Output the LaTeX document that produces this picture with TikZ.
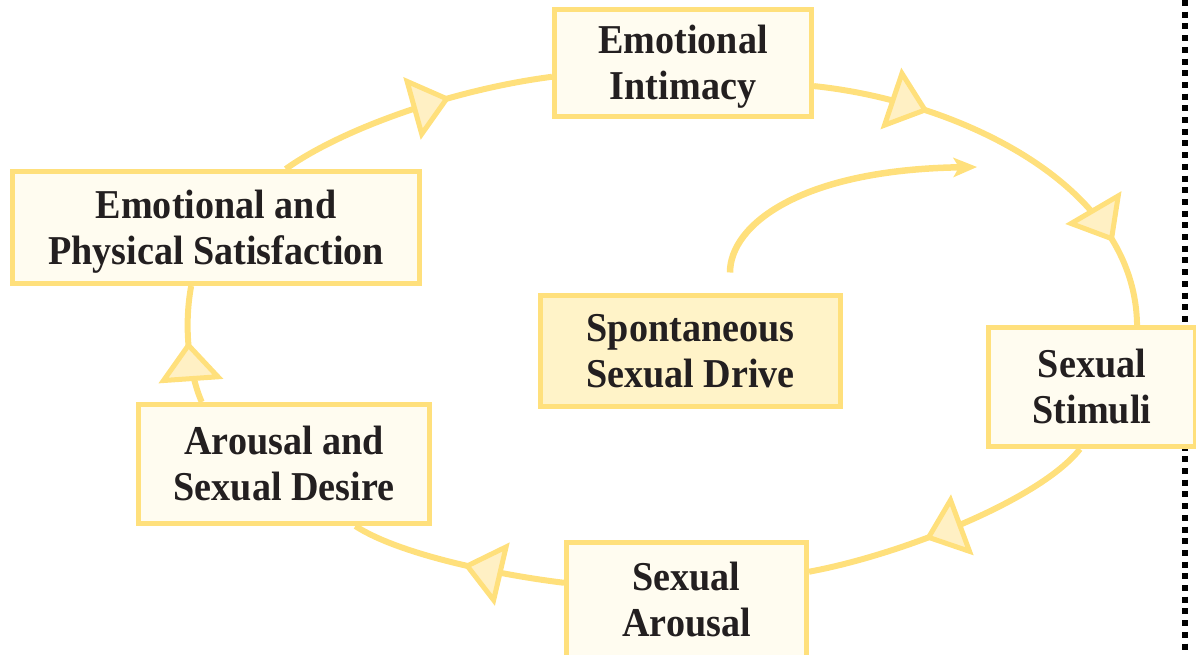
\documentclass[tikz,border=0pt]{standalone}
\usepackage{fontspec}
\setmainfont{Liberation Serif}
\newfontfamily\stagefont[FakeStretch=0.93]{Liberation Serif}
\usepackage{tikz}
\usetikzlibrary{arrows.meta}
\usetikzlibrary{positioning,decorations.markings}
\definecolor{cycleyellow}{RGB}{255,224,124}
\definecolor{boxcream}{RGB}{255,252,240}
\definecolor{drivecream}{RGB}{255,243,200}
\definecolor{tipcream}{RGB}{255,240,196}
\definecolor{inkblack}{RGB}{35,31,32}

\tikzset{
  stagebox/.style={draw=cycleyellow, line width=5pt, fill=boxcream, align=center,
    text=inkblack, inner sep=0pt, text height=73pt, text depth=0pt,
    font=\fontsize{41}{46}\selectfont\stagefont\bfseries},
  cyctip/.tip={Triangle[length=40pt, width=64pt, fill=tipcream, line width=5pt]},
  cycleline/.style={draw, color=cycleyellow, line width=6pt},
  midtip/.style={postaction={decorate},
    decoration={markings, mark=at position #1 with {\arrow{cyctip}}}},
  driveline/.style={draw=cycleyellow, line width=6.5pt,
    -{Stealth[length=24pt, width=20pt, inset=6pt, line width=0pt]}},
  dotrule/.style={draw=black, line width=6pt, dash pattern=on 6pt off 5.7pt}
}

\begin{document}
\begin{tikzpicture}[x=1pt, y=-1pt]
        \useasboundingbox (0,0) rectangle (1196,654);

        % page rule on the right
        \draw[dotrule] (1185,0) -- (1185,654);

        \node[stagebox, minimum width=257pt, minimum height=107pt] (intim) at (683,63) {Emotional\\Intimacy};
        \node[stagebox, minimum width=407pt, minimum height=112pt] (satisf) at (216,227.5) {Emotional and\\Physical Satisfaction};
        \node[stagebox, fill=drivecream, minimum width=300pt, minimum height=111pt] (drive) at (690.5,351) {Spontaneous\\Sexual Drive};
        \node[stagebox, minimum width=207pt, minimum height=119pt] (stim) at (1092,387) {Sexual\\Stimuli};
        \node[stagebox, minimum width=240pt, minimum height=115pt] (arous) at (686.5,600) {Sexual\\Arousal};
        \node[stagebox, minimum width=291pt, minimum height=119pt] (desire) at (284,464) {Arousal and\\Sexual Desire};

        % the cycle
        \draw[cycleline, postaction={decorate}, decoration={markings,
                mark=at position 0.27 with {\arrow{cyctip}},
                mark=at position 0.8 with {\arrow{cyctip}}}]
              (intim.-10) .. controls (950,100) and (1135,180) .. (stim.54);
        \draw[cycleline, midtip=0.6] (stim.-101) .. controls (1040,500) and (900,555) .. (arous.13);
        \draw[cycleline, midtip=0.47] (arous.172) .. controls (500,575) and (400,555) .. (desire.-41);
        \draw[cycleline, midtip=0.53] (desire.143) .. controls (190,375) and (183,330) .. (satisf.-113);
        \draw[cycleline, midtip=0.635] (satisf.40) .. controls (340,130) and (450,90) .. (intim.186);

        % drive feeds into the cycle
        \coordinate (drivestart) at ([xshift=39.5pt, yshift=20.5pt]drive.north);
        \coordinate (drivetip) at (977,167);
        \draw[driveline] (drivestart) .. controls (730,225) and (800,170) .. (drivetip);

\end{tikzpicture}
\end{document}
